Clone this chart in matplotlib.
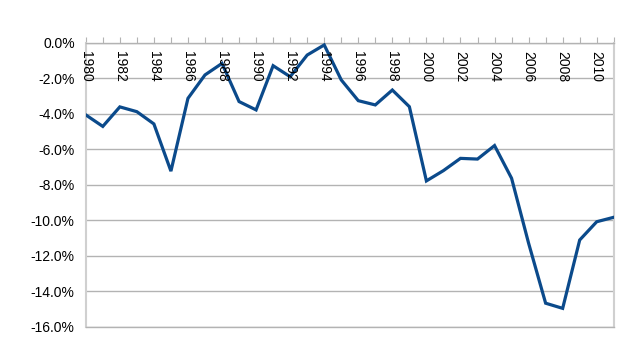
import matplotlib.pyplot as plt
from matplotlib.ticker import FuncFormatter, MultipleLocator

years = list(range(1980, 2012))
values = [-4.05, -4.7, -3.6, -3.87, -4.56, -7.22, -3.12, -1.8, -1.15, -3.3,
          -3.77, -1.28, -1.9, -0.68, -0.11, -2.08, -3.25, -3.49, -2.65, -3.59,
          -7.77, -7.19, -6.5, -6.54, -5.78, -7.62, -11.28, -14.66, -14.95, -11.1,
          -10.07, -9.82]
label_years = list(range(1980, 2011, 2))

plt.rcParams['font.family'] = ['Liberation Sans', 'DejaVu Sans']

fig = plt.figure(figsize=(6.4, 3.6), dpi=100)
ax = fig.add_axes([0.134, 0.0917, 0.825, 0.7889])

ax.plot(years, values, color='#0b4a8b', linewidth=2.3, solid_joinstyle='miter', zorder=3)

ax.set_xlim(1980, 2011)
ax.set_ylim(-16, 0)

# y axis
ax.yaxis.set_major_locator(MultipleLocator(2))
ax.yaxis.set_major_formatter(FuncFormatter(lambda v, p: f"{v:.1f}%"))
ax.tick_params(axis='y', length=0, pad=8, labelsize=10)
ax.grid(axis='y', color='#b3b3b3', linewidth=1.0)

# x axis: ticks at the zero line, labels below it inside the plot
ax.xaxis.tick_top()
ax.xaxis.set_major_locator(MultipleLocator(1))
ax.tick_params(axis='x', length=4, color='#b3b3b3', labeltop=False, labelbottom=False)
for yr in label_years:
    ax.annotate(str(yr), xy=(yr, 0), xytext=(0, -6), textcoords='offset points',
                rotation=270, ha='center', va='top', fontsize=10)

for side in ['left', 'right']:
    ax.spines[side].set_color('#d0d0d0')
    ax.spines[side].set_linewidth(1.5)
for side in ['top', 'bottom']:
    ax.spines[side].set_color('#b3b3b3')
    ax.spines[side].set_linewidth(1.0)

fig.savefig('out.png', dpi=100)
